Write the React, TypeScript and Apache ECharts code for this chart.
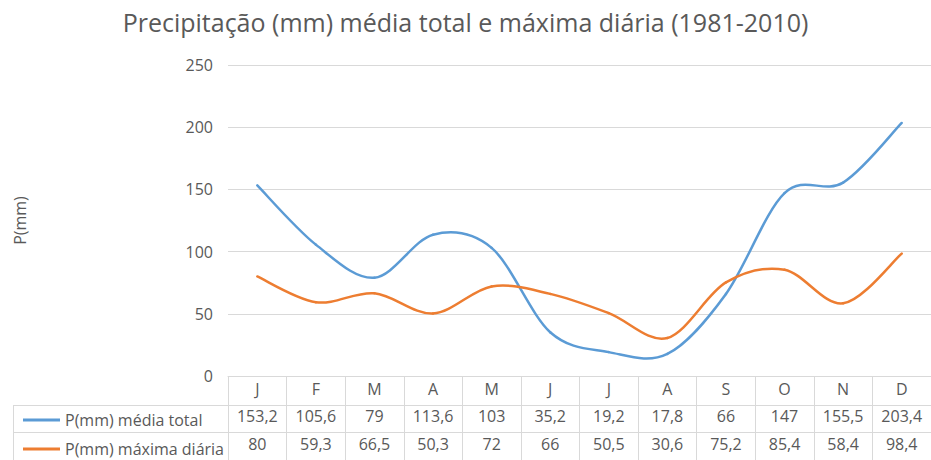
import React, { useEffect, useRef } from "react";
import * as echarts from "echarts";

const months = ["J", "F", "M", "A", "M", "J", "J", "A", "S", "O", "N", "D"];
const mediaTotal = [153.2, 105.6, 79, 113.6, 103, 35.2, 19.2, 17.8, 66, 147, 155.5, 203.4];
const maximaDiaria = [80, 59.3, 66.5, 50.3, 72, 66, 50.5, 30.6, 75.2, 85.4, 58.4, 98.4];
const yTicks = { min: 0, max: 250, interval: 50 };
const seriesNames = ["P(mm) média total", "P(mm) máxima diária"];
const titleText = "Precipitação (mm) média total e máxima diária (1981-2010)";
const yName = "P(mm)";

const fmt = (v: number) => String(v).replace(".", ",");

const FONT = "'Open Sans', 'Noto Sans', sans-serif";
const TXT = "#595959";
const GRID = "#d9d9d9";
const BLUE = "#5B9BD5";
const ORANGE = "#ED7D31";

// Excel-like smoothed line (Catmull-Rom style Bezier), one segment per data item,
// positions obtained from the chart's own scales via api.coord.
function smoothSeries(name: string, values: number[], color: string) {
  return {
    name,
    type: "custom",
    xAxisIndex: 0,
    yAxisIndex: 0,
    itemStyle: { color },
    data: values.map((v, i) => [i, v]),
    encode: { x: 0, y: 1 },
    renderItem: (params: any, api: any) => {
      const i = params.dataIndex;
      if (i >= values.length - 1) return null;
      const pt = (k: number) => {
        const kk = Math.max(0, Math.min(values.length - 1, k));
        return api.coord([kk, values[kk]]);
      };
      const p0 = pt(i - 1);
      const p1 = pt(i);
      const p2 = pt(i + 1);
      const p3 = pt(i + 2);
      const t = 1 / 6;
      return {
        type: "bezierCurve",
        shape: {
          x1: p1[0],
          y1: p1[1],
          x2: p2[0],
          y2: p2[1],
          cpx1: p1[0] + (p2[0] - p0[0]) * t,
          cpy1: p1[1] + (p2[1] - p0[1]) * t,
          cpx2: p2[0] - (p3[0] - p1[0]) * t,
          cpy2: p2[1] - (p3[1] - p1[1]) * t,
        },
        style: { stroke: color, lineWidth: 2.5, fill: "none", lineCap: "round" },
      };
    },
  };
}

export default function App() {
  const ref = useRef<HTMLDivElement>(null);
  useEffect(() => {
    if (!ref.current) return;
    const chart = echarts.init(ref.current, undefined, { renderer: "svg" });
    const labelStyle = { color: TXT, fontSize: 16, fontFamily: FONT };
    chart.setOption({
      animation: false,
      backgroundColor: "#ffffff",
      textStyle: { fontFamily: FONT },
      title: {
        text: titleText,
        left: "center",
        top: 4,
        textStyle: { color: TXT, fontSize: 25, fontWeight: "normal", fontFamily: FONT },
      },
      legend: [
        {
          data: [{ name: seriesNames[0], itemStyle: { color: BLUE } }],
          left: 18,
          top: 407,
          icon: "rect",
          itemWidth: 37,
          itemHeight: 3,
          textStyle: labelStyle,
          selectedMode: false,
        },
        {
          data: [{ name: seriesNames[1], itemStyle: { color: ORANGE } }],
          left: 18,
          top: 436,
          icon: "rect",
          itemWidth: 37,
          itemHeight: 3,
          textStyle: labelStyle,
          selectedMode: false,
        },
      ],
      grid: { left: 228, right: -7, top: 65, bottom: 84, containLabel: false },
      xAxis: [
        {
          type: "category",
          data: months,
          boundaryGap: true,
          position: "bottom",
          axisLine: { show: true, lineStyle: { color: GRID, width: 1 } },
          axisTick: { show: true, interval: 0, length: 84, lineStyle: { color: GRID } },
          axisLabel: { ...labelStyle, interval: 0, margin: 5 },
          splitLine: { show: false },
        },
        {
          type: "category",
          data: months,
          boundaryGap: true,
          position: "bottom",
          offset: 29,
          axisLine: { show: false },
          axisTick: { show: false },
          axisLabel: {
            ...labelStyle,
            interval: 0,
            margin: 3,
            formatter: (_v: string, i: number) => fmt(mediaTotal[i]),
          },
        },
        {
          type: "category",
          data: months,
          boundaryGap: true,
          position: "bottom",
          offset: 56,
          axisLine: { show: false },
          axisTick: { show: false },
          axisLabel: {
            ...labelStyle,
            interval: 0,
            margin: 4,
            formatter: (_v: string, i: number) => fmt(maximaDiaria[i]),
          },
        },
      ],
      yAxis: {
        type: "value",
        min: yTicks.min,
        max: yTicks.max,
        interval: yTicks.interval,
        name: yName,
        nameLocation: "middle",
        nameGap: 200,
        nameTextStyle: { color: TXT, fontSize: 16, fontFamily: FONT },
        axisLine: { show: false },
        axisTick: { show: false },
        axisLabel: { ...labelStyle, margin: 15 },
        splitLine: { show: true, lineStyle: { color: GRID, width: 1 } },
      },
      graphic: [
        { type: "line", shape: { x1: 13, y1: 405.5, x2: 931, y2: 405.5 }, style: { stroke: GRID, lineWidth: 1 } },
        { type: "line", shape: { x1: 13, y1: 432.5, x2: 931, y2: 432.5 }, style: { stroke: GRID, lineWidth: 1 } },
        { type: "line", shape: { x1: 13.5, y1: 405, x2: 13.5, y2: 460 }, style: { stroke: GRID, lineWidth: 1 } },
      ],
      series: [
        smoothSeries(seriesNames[0], mediaTotal, BLUE),
        smoothSeries(seriesNames[1], maximaDiaria, ORANGE),
      ],
    });
    return () => chart.dispose();
  }, []);
  return (
    <div
      ref={ref}
      style={{ position: "fixed", left: 0, top: 0, width: 931, height: 460, background: "#fff" }}
    />
  );
}
